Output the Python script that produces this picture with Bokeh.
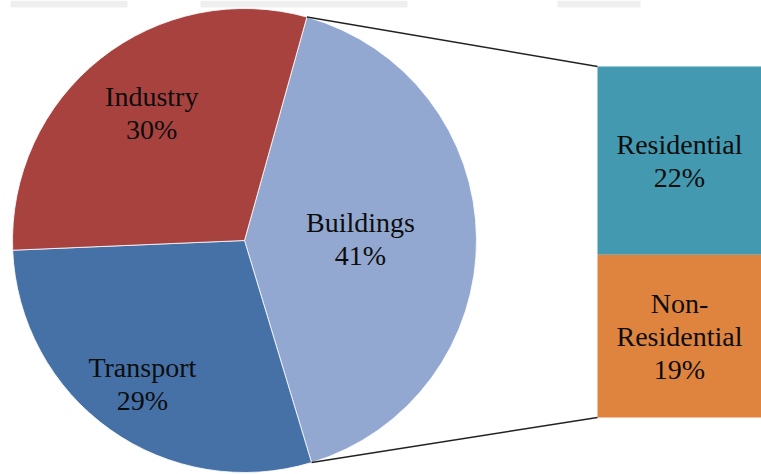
import math
from bokeh.plotting import figure
from bokeh.models import ColumnDataSource
from bokeh.core.properties import value
from bokeh.embed import file_html
from bokeh.resources import INLINE

# ---- data ----
sectors = ["Buildings", "Transport", "Industry"]          # clockwise from the split
sector_share = [41, 29, 30]
sector_colors = ["#93A8D0", "#4571A7", "#A8423F"]
sub_sectors = ["Residential", "Non-\nResidential"]
sub_share = [22, 19]
sub_colors = ["#4299B0", "#DE843F"]

# ---- layout (pixel space, y up) ----
W, H = 761, 474
CX, CY, R = 244, 234, 232
START_DEG = 74.4                       # where the Buildings slice begins (clockwise)
LABEL_RF = [0.50, 0.76, 0.68]
LABEL_DA = [0.0, 0.0, -2.4]
BAR_X0, BAR_X1 = 597, 762
BAR_TOP, BAR_BOT = 408, 57
FONT = value("Liberation Serif")
FS = "28px"
LH = 1.07

p = figure(width=W, height=H, x_range=(0, W), y_range=(0, H),
           output_backend="svg", toolbar_location=None, min_border=0)
p.axis.visible = False
p.grid.visible = False
p.outline_line_color = None
p.background_fill_color = "white"
p.border_fill_color = "white"

# faint watermark band at the top
p.quad(left=[10, 200, 557], right=[127, 407, 640], bottom=[H - 7] * 3, top=[H] * 3,
       fill_color="#efefef", line_color=None)

# ---- pie ----
cum = 0.0
starts, ends, lx, ly, labels = [], [], [], [], []
for name, v, rf, da in zip(sectors, sector_share, LABEL_RF, LABEL_DA):
    a_start = START_DEG - cum
    cum += v * 3.6
    a_end = START_DEG - cum
    starts.append(math.radians(a_end))
    ends.append(math.radians(a_start))
    mid = math.radians((a_start + a_end) / 2 + da)
    lx.append(CX + R * rf * math.cos(mid))
    ly.append(CY + R * rf * math.sin(mid))
    labels.append(f"{name}\n{v}%")

pie = ColumnDataSource(dict(start=starts, end=ends, color=sector_colors))
p.wedge(x=CX, y=CY, radius=R, start_angle="start", end_angle="end",
        direction="anticlock", fill_color="color", line_color="white",
        line_width=0.8, source=pie)

p.text(x=lx, y=ly, text=labels, text_font=FONT, text_font_size=FS,
       text_align="center", text_baseline="middle", text_color="#0d0d0d",
       text_line_height=LH)

# ---- bar of the split slice ----
total = sum(sub_share)
scale = (BAR_TOP - BAR_BOT) / total
tops, bots = [], []
t = BAR_TOP
for v in sub_share:
    tops.append(t)
    bots.append(t - v * scale)
    t -= v * scale
p.quad(left=BAR_X0, right=BAR_X1, top=tops, bottom=bots, fill_color=sub_colors,
       line_color=None)
p.text(x=[(BAR_X0 + 763) / 2 - 1] * 2, y=[(a + b) / 2 for a, b in zip(tops, bots)],
       text=[f"{n}\n{v}%" for n, v in zip(sub_sectors, sub_share)],
       text_font=FONT, text_font_size=FS, text_align="center",
       text_baseline="middle", text_color="#0d0d0d", text_line_height=LH)

# ---- connector lines ----
a0 = math.radians(START_DEG)
a1 = math.radians(START_DEG - sector_share[0] * 3.6)
p.segment(x0=[CX + R * math.cos(a0), CX + R * math.cos(a1)],
          y0=[CY + R * math.sin(a0), CY + R * math.sin(a1)],
          x1=[BAR_X0, BAR_X0], y1=[BAR_TOP, BAR_BOT],
          line_color="#222222", line_width=1.5)

open("out.html", "w").write(file_html(p, INLINE))
